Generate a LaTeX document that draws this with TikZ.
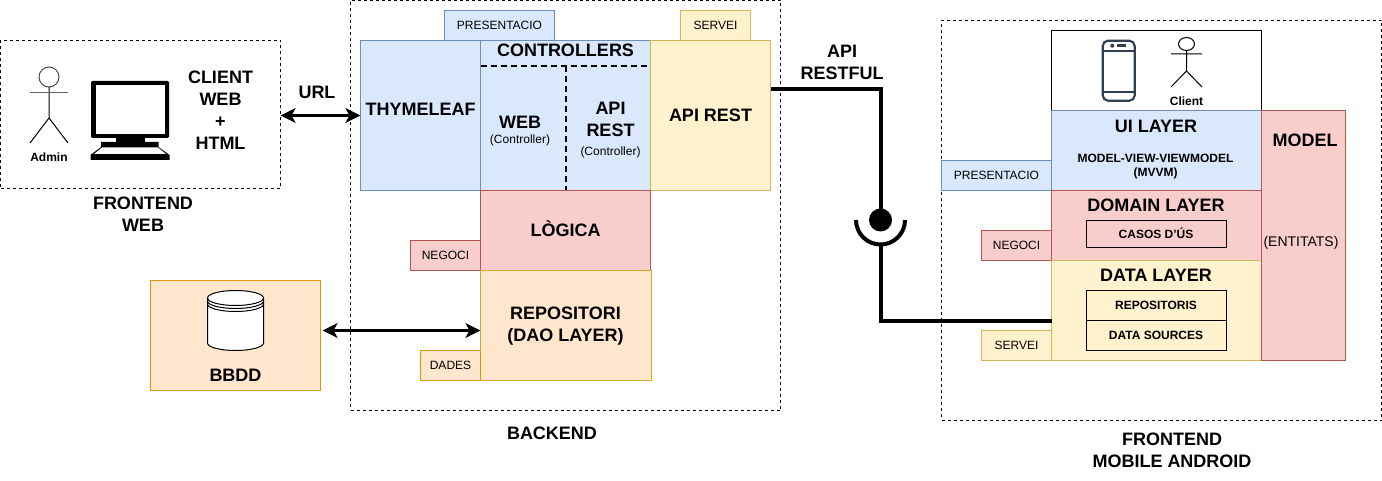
\documentclass[tikz,border=0pt]{standalone}
\usepackage{fontspec}
\setmainfont{Liberation Sans}
\usetikzlibrary{arrows.meta,calc}
\definecolor{bluef}{HTML}{DAE8FC}\definecolor{blued}{HTML}{6C8EBF}
\definecolor{yelf}{HTML}{FFF2CC}\definecolor{yeld}{HTML}{D6B656}
\definecolor{redf}{HTML}{F8CECC}\definecolor{redd}{HTML}{B85450}
\definecolor{oraf}{HTML}{FFE6CC}\definecolor{orad}{HTML}{D79B00}
\definecolor{phonec}{HTML}{2F3E50}
\newcommand{\pxfont}[1]{\fontsize{\dimexpr #1pt*3/4\relax}{\dimexpr #1pt*11/12\relax}\selectfont}
% \rbox{style}{name}{x1}{y1}{x2}{y2}{text}
\newcommand{\rbox}[7]{\node[#1,minimum width={(#5-#3)*0.75pt},minimum height={(#6-#4)*0.75pt}] (#2) at ({(#3+#5)/2},{(#4+#6)/2}) {#7};}
\tikzset{
  every node/.style={inner sep=0pt,outer sep=0pt},
  bx/.style={draw,rectangle,line width=.75pt},
  blue box/.style={bx,draw=blued,fill=bluef},
  yellow box/.style={bx,draw=yeld,fill=yelf},
  red box/.style={bx,draw=redd,fill=redf},
  orange box/.style={bx,draw=orad,fill=oraf},
  plain box/.style={bx,draw=black},
  dash box/.style={bx,draw=black,dash pattern=on 2.25pt off 2.25pt},
  inner dash/.style={line width=1.5pt,dash pattern=on 4.5pt off 3pt},
  small/.style={font=\pxfont{12}},
  smallb/.style={font=\pxfont{12}\bfseries},
  big/.style={font=\pxfont{18}\bfseries,align=center},
  twoway/.style={line width=2pt,{Stealth[length=11.25pt,width=11pt,inset=3pt]}-{Stealth[length=11.25pt,width=11pt,inset=3pt]}},
  api link/.style={line width=3pt,miter limit=10},
  fig/.style={line width=.75pt,draw=black},
}
\begin{document}
\begin{tikzpicture}[x=0.75pt,y=-0.75pt]
\useasboundingbox (0,0) rectangle (1382,481);
% Frontend web
\rbox{dash box}{fw}{0.5}{40.5}{280.5}{188.5}{}
\draw[fig,draw=black!70] (49,77) circle[radius=10];
\draw[fig] (49,87) -- (49,118) (30,143) -- (49,118) -- (68,143);
\draw[fig,draw=black!60,line width=1pt] (30,92.5) -- (68,92.5);
\node[smallb] (adm) at (49,157) {Admin};
% monitor
\fill[black,rounded corners=1pt] (91,81) rectangle (169,138);
\fill[white] (96,85.5) rectangle (164.5,134);
\fill[black] (115.5,137) rectangle (145,143);
\fill[black] (101,142) -- (158.5,142) -- (158.5,147) -- (169.5,155) -- (169.5,160) -- (90.5,160) -- (90.5,155) -- (101,147) -- cycle;
\fill[white] (102,147.5) -- (158,147.5) -- (166,154) -- (94,154) -- cycle;
\node[big] (cw) at (220.5,110.5) {CLIENT\\WEB\\+\\HTML};
\node[big] (fwl) at (143,214) {FRONTEND\\WEB};
% Backend
\rbox{dash box}{be}{350.5}{0.5}{780.5}{410.5}{}
\rbox{blue box,small}{pres}{444.5}{10.5}{554.5}{40.5}{PRESENTACIO}
\rbox{yellow box,small}{serv}{680.5}{10.5}{750.5}{40.5}{SERVEI}
\rbox{blue box,big}{thy}{360.5}{40.5}{480.5}{190.5}{}
\node[big] at (420.5,109.5) {THYMELEAF};
\rbox{blue box}{ctrl}{480.5}{40.5}{650.5}{190.5}{}
\rbox{yellow box}{apir}{650.5}{40.5}{770.5}{190.5}{}
\coordinate (d1) at (480.5,66);
\coordinate (d2) at (650.5,66);
\coordinate (d3) at (565.5,66);
\coordinate (d4) at (565.5,190.5);
\draw[inner dash] (d1) -- (d2);
\draw[inner dash] (d3) -- (d4);
\node[big] at (565.5,50) {CONTROLLERS};
\node[big] at (520,122.5) {WEB};
\node[small] at (520,140.5) {(Controller)};
\node[big] at (610.5,119.5) {API\\REST};
\node[small] at (610.5,152.5) {(Controller)};
\node[big] at (710.5,115) {API REST};
\rbox{red box}{logi}{480.5}{190.5}{650.5}{270.5}{}
\node[big] at (565.5,229) {LÒGICA};
\rbox{red box,small}{neg}{410.5}{240.5}{480.5}{270.5}{NEGOCI}
\rbox{orange box,draw=yeld!50!orad}{repo}{480.5}{270.5}{651}{380.5}{}
\node[big] at (565.5,326.5) {REPOSITORI\\(DAO LAYER)};
\rbox{orange box,small}{dad}{420.5}{350.5}{480.5}{380.5}{DADES}
\rbox{orange box}{bd}{150.5}{280.5}{320.5}{390.5}{}
\node[big] at (235.5,375) {BBDD};
\node[big] at (552,433) {BACKEND};
% database
\draw[fig,fill=white] (207.5,298) arc[start angle=180,end angle=360,x radius=28,y radius=7.5] -- (263.5,343) arc[start angle=0,end angle=180,x radius=28,y radius=7.5] -- cycle;
\draw[fig] (207.5,298) arc[start angle=180,end angle=0,x radius=28,y radius=7.5];
\draw[fig] (207.5,301) arc[start angle=180,end angle=0,x radius=28,y radius=7.5];
\draw[fig] (207.5,304) arc[start angle=180,end angle=0,x radius=28,y radius=7.5];
\draw[twoway] ([xshift=1.5pt,yshift=3.75pt]bd.east) -- ([yshift=-3.75pt]repo.west);
\draw[twoway] ([yshift=-.75pt]fw.east) -- (thy.west);
\node[big] at (317,92) {URL};
% API link
\coordinate (sock) at (880.5,220);
\coordinate (cup) at (880.5,244.5);
\node[big] at (842,62.5) {API\\RESTFUL};
% Android
\rbox{dash box}{fa}{941.5}{20.5}{1381.5}{420.5}{}
\rbox{blue box,small}{pres2}{941.5}{160.5}{1051.5}{190.5}{PRESENTACIO}
\rbox{red box,small}{neg2}{981.5}{230.5}{1051.5}{260.5}{NEGOCI}
\rbox{yellow box,small}{serv2}{981.5}{330.5}{1051.5}{360.5}{SERVEI}
\rbox{plain box,fill=white}{cli}{1051.5}{30.5}{1261.5}{110.5}{}
\rbox{blue box}{ui}{1051.5}{110.5}{1261.5}{190.5}{}
\rbox{red box}{dom}{1051.5}{190.5}{1261.5}{260.5}{}
\rbox{yellow box}{dat}{1051.5}{260.5}{1261.5}{360.5}{}
\rbox{red box}{mod}{1261.5}{110.5}{1345}{360.5}{}
\rbox{plain box}{cas}{1086.5}{220.5}{1226.5}{248}{}
\rbox{plain box}{rp}{1086.5}{290.5}{1226.5}{320.5}{}
\rbox{plain box}{ds}{1086.5}{320.5}{1226.5}{350.5}{}
\node[big] at (1156,126) {UI LAYER};
\node[smallb,align=center] at (1155.5,166.5) {MODEL-VIEW-VIEWMODEL\\(MVVM)};
\node[big] at (1305,140) {MODEL};
\node[font=\pxfont{14}] at (1301,243) {(ENTITATS)};
\node[big] at (1156,205) {DOMAIN LAYER};
\node[smallb] at (1156,233.5) {CASOS D'ÚS};
\node[big] at (1156,275) {DATA LAYER};
\node[smallb] at (1156,305) {REPOSITORIS};
\node[smallb] at (1156,335) {DATA SOURCES};
\node[big] at (1172,450) {FRONTEND\\MOBILE ANDROID};
% phone
\draw[phonec,line width=1.6pt,rounded corners=4pt] (1102.7,40.7) rectangle (1134.7,100.7);
\draw[phonec,line width=1.3pt] (1102.7,50.7) -- (1134.7,50.7) (1102.7,92.3) -- (1134.7,92.3);
\fill[phonec] (1112.3,45.7) circle[radius=2];
\fill[phonec] (1116.7,44) rectangle (1125.7,47);
% client
\draw[fig] (1186.5,44) ellipse[x radius=8,y radius=6.5];
\draw[fig] (1186.5,50.5) -- (1186.5,71) (1171,87) -- (1186.5,71) -- (1202,87) (1171,54) -- (1202,54);
\node[smallb] (clt) at (1186.5,101) {Client};
% API connector and socket
\draw[api link] ([yshift=19.5pt]apir.east) -| (sock);
\draw[api link] (cup) |- ([yshift=-7.5pt]dat.west);
\fill[black] (sock) circle[radius=11.5];
\draw[api link] (856,220) arc[start angle=180,end angle=0,radius=24.5];
\end{tikzpicture}
\end{document}
